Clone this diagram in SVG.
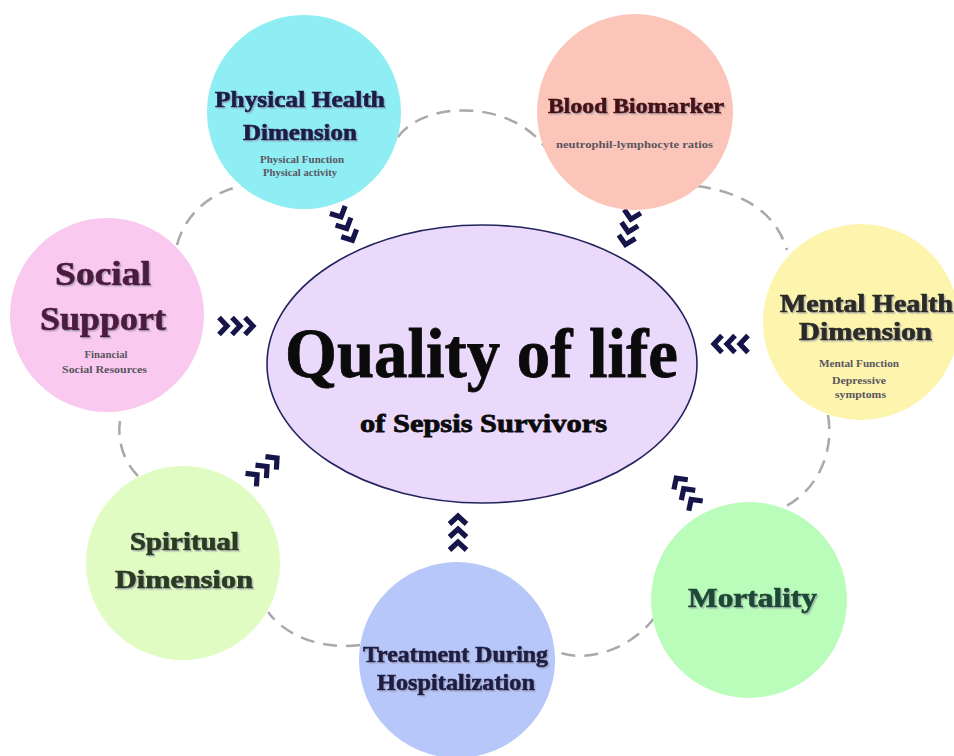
<svg xmlns="http://www.w3.org/2000/svg" xmlns:xlink="http://www.w3.org/1999/xlink" width="954" height="756" viewBox="0 0 954 756">
<style>
.ring{fill:none;stroke:#a9a9a9;stroke-width:2.5;stroke-dasharray:14 9;stroke-linecap:butt}
.title{font-family:"Liberation Serif","DejaVu Serif",serif;font-weight:bold;text-anchor:middle;filter:url(#sh);stroke-width:0.7}
.sub{font-family:"Liberation Serif","DejaVu Serif",serif;font-weight:bold;text-anchor:middle;font-size:11px;fill:#5a5560}
.center{font-family:"Liberation Serif","DejaVu Serif",serif;font-weight:bold;text-anchor:middle;fill:#0b0b0b;stroke:#0b0b0b;stroke-width:0.8}
</style>
<defs>
<filter id="sh" x="-10%" y="-30%" width="120%" height="160%">
<feDropShadow dx="1.5" dy="1.5" stdDeviation="0.3" flood-color="#8a8aa0" flood-opacity="0.55"/>
</filter>
<g id="chev"><path d="M-17,-8.5 L-9,0 L-17,8.5 M-4,-8.5 L4,0 L-4,8.5 M9,-8.5 L17,0 L9,8.5" fill="none" stroke="#15154a" stroke-width="5.2" stroke-linejoin="miter" stroke-miterlimit="10"/></g>
</defs>
<rect width="954" height="756" fill="#ffffff"/>
<g id="connectors">
<path class="ring" d="M398,137 C425,100 510,100 545,147"/>
<path class="ring" d="M697,186 C740,192 775,210 787,250"/>
<path class="ring" d="M828,415 C835,455 815,495 778,510"/>
<path class="ring" d="M655,617 C630,650 585,665 553,650"/>
<path class="ring" d="M360,645 C320,650 285,635 268,612"/>
<path class="ring" d="M138,476 C122,460 115,435 122,412"/>
<path class="ring" d="M177,245 C185,215 210,192 242,186"/>
<use xlink:href="#chev" transform="translate(345,225) rotate(64)"/>
<use xlink:href="#chev" transform="translate(629,228) rotate(102)"/>
<use xlink:href="#chev" transform="translate(236,326)"/>
<use xlink:href="#chev" transform="translate(731,344) rotate(180)"/>
<use xlink:href="#chev" transform="translate(264,469) rotate(-40)"/>
<use xlink:href="#chev" transform="translate(458,533) rotate(-90)"/>
<use xlink:href="#chev" transform="translate(686,492) rotate(-125)"/>
</g>
<g id="quality-of-life">
<ellipse cx="482" cy="364" rx="215" ry="139" fill="#ebd9fc" stroke="#23235e" stroke-width="1.6"/>
<text class="center" x="481.5" y="377" font-size="70" textLength="393" lengthAdjust="spacingAndGlyphs">Quality of life</text>
<text class="center" x="483.5" y="432" font-size="26" stroke-width="0.3" textLength="247" lengthAdjust="spacingAndGlyphs">of Sepsis Survivors</text>
</g>
<g id="physical-health">
<circle cx="304" cy="112" r="97" fill="#8eeef4"/>
<text class="title" x="300" y="107" font-size="23" fill="#1c1c4c" stroke="#1c1c4c" textLength="170" lengthAdjust="spacingAndGlyphs">Physical Health</text>
<text class="title" x="300" y="140" font-size="23" fill="#1c1c4c" stroke="#1c1c4c" textLength="114" lengthAdjust="spacingAndGlyphs">Dimension</text>
<text class="sub" x="302" y="163" textLength="84" lengthAdjust="spacingAndGlyphs">Physical Function</text>
<text class="sub" x="300" y="176" textLength="74" lengthAdjust="spacingAndGlyphs">Physical activity</text>
</g>
<g id="blood-biomarker">
<circle cx="635" cy="112" r="98" fill="#fcc5b9"/>
<text class="title" x="636" y="113" font-size="22" fill="#4a1012" stroke="#4a1012" textLength="176" lengthAdjust="spacingAndGlyphs">Blood Biomarker</text>
<text class="sub" x="634.5" y="148" textLength="157" lengthAdjust="spacingAndGlyphs">neutrophil-lymphocyte ratios</text>
</g>
<g id="social-support">
<circle cx="107" cy="315" r="97" fill="#f9c9ef"/>
<text class="title" x="103" y="285" font-size="34" fill="#4c1a3c" stroke="#4c1a3c" textLength="96" lengthAdjust="spacingAndGlyphs">Social</text>
<text class="title" x="103" y="330" font-size="34" fill="#4c1a3c" stroke="#4c1a3c" textLength="126" lengthAdjust="spacingAndGlyphs">Support</text>
<text class="sub" x="106" y="358" font-size="10.5" fill="#6e5468" textLength="43" lengthAdjust="spacingAndGlyphs">Financial</text>
<text class="sub" x="104.5" y="373" font-size="10.5" fill="#6e5468" textLength="85" lengthAdjust="spacingAndGlyphs">Social Resources</text>
</g>
<g id="mental-health">
<circle cx="861" cy="322" r="98" fill="#fdf4ae"/>
<text class="title" x="866.5" y="312" font-size="25" fill="#2b2b28" stroke="#2b2b28" textLength="173" lengthAdjust="spacingAndGlyphs">Mental Health</text>
<text class="title" x="865.5" y="340" font-size="25" fill="#2b2b28" stroke="#2b2b28" textLength="133" lengthAdjust="spacingAndGlyphs">Dimension</text>
<text class="sub" x="859" y="367" font-size="10.5" textLength="80" lengthAdjust="spacingAndGlyphs">Mental Function</text>
<text class="sub" x="859" y="384" font-size="10.5" textLength="54" lengthAdjust="spacingAndGlyphs">Depressive</text>
<text class="sub" x="860.5" y="398" font-size="10.5" textLength="51" lengthAdjust="spacingAndGlyphs">symptoms</text>
</g>
<g id="spiritual">
<circle cx="183" cy="563" r="97" fill="#e1fcc2"/>
<text class="title" x="184.5" y="550" font-size="26" fill="#2a3a22" stroke="#2a3a22" textLength="109" lengthAdjust="spacingAndGlyphs">Spiritual</text>
<text class="title" x="184" y="588" font-size="26" fill="#2a3a22" stroke="#2a3a22" textLength="138" lengthAdjust="spacingAndGlyphs">Dimension</text>
</g>
<g id="treatment">
<circle cx="457" cy="660" r="98" fill="#b8c7f9"/>
<text class="title" x="455.5" y="662" font-size="23" fill="#1f1f44" stroke="#1f1f44" textLength="185" lengthAdjust="spacingAndGlyphs">Treatment During</text>
<text class="title" x="456" y="690" font-size="23" fill="#1f1f44" stroke="#1f1f44" textLength="158" lengthAdjust="spacingAndGlyphs">Hospitalization</text>
</g>
<g id="mortality">
<circle cx="749" cy="600" r="98" fill="#bafcba"/>
<text class="title" x="752.5" y="607" font-size="28" fill="#1e4a36" stroke="#1e4a36" textLength="129" lengthAdjust="spacingAndGlyphs">Mortality</text>
</g>
</svg>
